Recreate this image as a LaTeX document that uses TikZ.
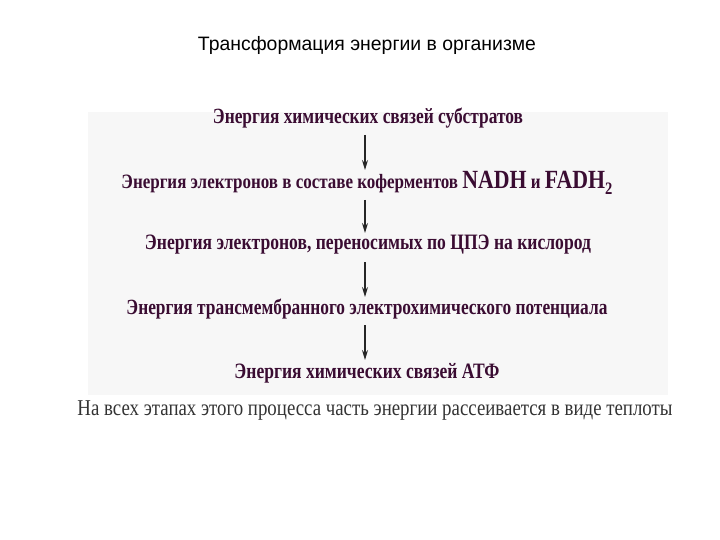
\documentclass[tikz,border=0pt]{standalone}
\usepackage{fontspec}
\setmainfont{Liberation Serif}
\newfontfamily\titlefont{Liberation Sans}
\usepackage{graphicx}
\usetikzlibrary{arrows.meta}
\definecolor{txt}{HTML}{3A0C32}
\definecolor{bg}{HTML}{F7F7F7}
\begin{document}
\begin{tikzpicture}[x=1pt,y=-1pt,
  lvl/.style={text=txt,inner sep=0pt,font=\bfseries},
  arr/.style={-{Stealth[length=10pt,width=6pt]},line width=1.2pt,black!85}]
\useasboundingbox (0,0) rectangle (720,540);
\fill[bg] (88,112) rectangle (668,395);
\node[inner sep=0pt] (t) at (367,45) {\resizebox{338pt}{!}{\titlefont\fontsize{16}{18}\selectfont Трансформация энергии в организме}};
\node[lvl] (a) at (368,118) {\scalebox{1}[1.25]{\resizebox{310pt}{!}{\fontsize{14}{16}\selectfont\bfseries Энергия химических связей субстратов}}};
\node[lvl] (b) at (367,183) {\scalebox{1}[1.2]{\resizebox{491pt}{!}{\fontsize{14}{16}\selectfont\bfseries Энергия электронов в составе коферментов {\fontsize{18}{18}\selectfont NADH} и {\fontsize{18}{18}\selectfont FADH\raisebox{-4pt}{\fontsize{12}{12}\selectfont 2}}}}};
\node[lvl] (c) at (368,245) {\scalebox{1}[1.25]{\resizebox{446pt}{!}{\fontsize{14}{16}\selectfont\bfseries Энергия электронов, переносимых по ЦПЭ на кислород}}};
\node[lvl] (d) at (367,309) {\scalebox{1}[1.25]{\resizebox{481pt}{!}{\fontsize{14}{16}\selectfont\bfseries Энергия трансмембранного электрохимического потенциала}}};
\node[lvl] (e) at (367,373) {\scalebox{1}[1.25]{\resizebox{265pt}{!}{\fontsize{14}{16}\selectfont\bfseries Энергия химических связей АТФ}}};
\node[inner sep=0pt,text=black!80] (f) at (375,410) {\scalebox{1}[1.2]{\resizebox{595pt}{!}{\fontsize{14}{16}\selectfont На всех этапах этого процесса часть энергии рассеивается в виде теплоты}}};
\draw[arr] (365,135) -- (365,170);
\draw[arr] (365,200) -- (365,233);
\draw[arr] (365,262) -- (365,297);
\draw[arr] (365,325) -- (365,360);
\end{tikzpicture}
\end{document}
